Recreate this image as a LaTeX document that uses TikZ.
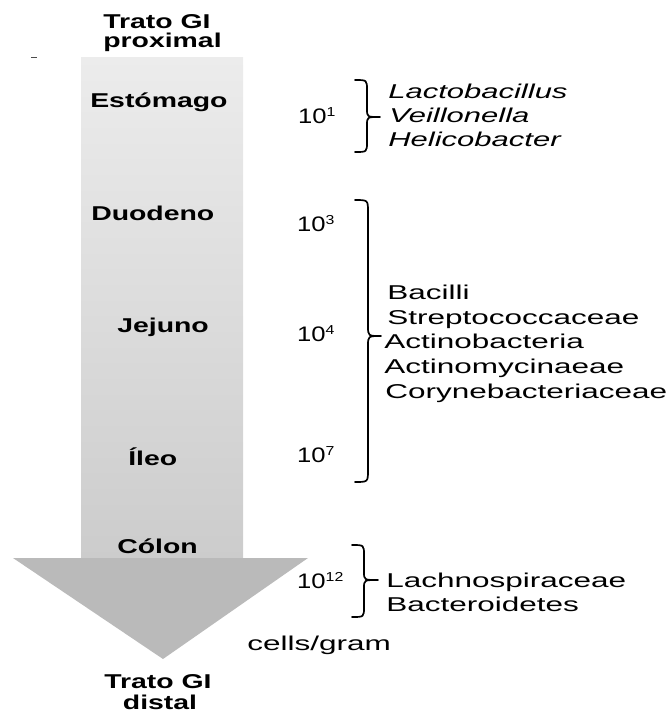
\documentclass[tikz,border=0pt]{standalone}
\usepackage{fontspec}
\usepackage{graphicx}
\setmainfont{Liberation Sans}
\definecolor{shafttop}{RGB}{236,236,236}
\definecolor{shaftbot}{RGB}{204,204,204}
\definecolor{headgray}{RGB}{186,186,186}
\newcommand\pow[1]{10\raisebox{7pt}{\fontsize{13}{13}\selectfont #1}}
\begin{document}
\begin{tikzpicture}[x=1pt,y=-1pt,
  lbl/.style={font=\fontsize{20}{22}\selectfont\bfseries, xscale=1.42, inner sep=0pt, anchor=base west},
  lblc/.style={font=\fontsize{20}{22}\selectfont\bfseries, xscale=1.42, inner sep=0pt, anchor=base},
  tax/.style={font=\fontsize{20}{22}\selectfont, xscale=1.575, inner sep=0pt, anchor=base west},
  taxi/.style={font=\fontsize{20}{22}\selectfont\itshape, xscale=1.55, inner sep=0pt, anchor=base west},
  num/.style={font=\fontsize{21}{22}\selectfont, xscale=1.22, inner sep=0pt, anchor=base west},
  bracestyle/.style={line width=1.7pt, line cap=round, line join=round}]
\useasboundingbox (0,0) rectangle (670,713);
% arrow
\shade[top color=shafttop, bottom color=shaftbot] (81,57) rectangle (243,559);
\fill[headgray] (13,558) -- (308,558) -- (163,659) -- cycle;
\draw[line width=0.9pt, black!70] (31,57) -- (37,57);
% titles
\node[lbl] (p1) at (103,28) {Trato GI};
\node[lbl] (p2) at (103,47) {proximal};
\node[lblc] (d1) at (158,688) {Trato GI};
\node[lblc] (d2) at (160,709) {distal};
% regions
\node[lbl] (est) at (90,107) {Estómago};
\node[lbl] (duo) at (91,220) {Duodeno};
\node[lbl] (jej) at (117,332) {Jejuno};
\node[lbl] (ile) at (128,465) {Íleo};
\node[lbl] (col) at (117,553) {Cólon};
% numbers
\node[num] (n1) at (298,123) {\pow{1}};
\node[num] (n3) at (297,231) {\pow{3}};
\node[num] (n4) at (297,341) {\pow{4}};
\node[num] (n7) at (297,462) {\pow{7}};
\node[num] (n12) at (297,588) {\pow{12}};
\node[tax] (cg) at (247,650) {cells/gram};
% braces
\draw[bracestyle] (355,80) .. controls (367,80) .. (367,90) -- (367,109) .. controls (367,117) .. (380,117) .. controls (367,117) .. (367,125) -- (367,142) .. controls (367,152) .. (355,152);
\draw[bracestyle] (355,200) .. controls (368,200) .. (368,212) -- (368,326) .. controls (368,336) .. (381,336) .. controls (368,336) .. (368,346) -- (368,470) .. controls (368,482) .. (355,482);
\draw[bracestyle] (352,545) .. controls (364,545) .. (364,555) -- (364,572) .. controls (364,580) .. (378,580) .. controls (364,580) .. (364,588) -- (364,607) .. controls (364,617) .. (352,617);
% taxa
\node[taxi] (t1) at (388,98) {Lactobacillus};
\node[taxi] (t2) at (389,122) {Veillonella};
\node[taxi] (t3) at (388,146) {Helicobacter};
\node[tax] (t4) at (387,299) {Bacilli};
\node[tax] (t5) at (387,324) {Streptococcaceae};
\node[tax] (t6) at (384,348) {Actinobacteria};
\node[tax] (t7) at (384,373) {Actinomycinaeae};
\node[tax] (t8) at (385,398) {Corynebacteriaceae};
\node[tax] (t9) at (386,587) {Lachnospiraceae};
\node[tax] (t10) at (386,611) {Bacteroidetes};
\end{tikzpicture}
\end{document}
